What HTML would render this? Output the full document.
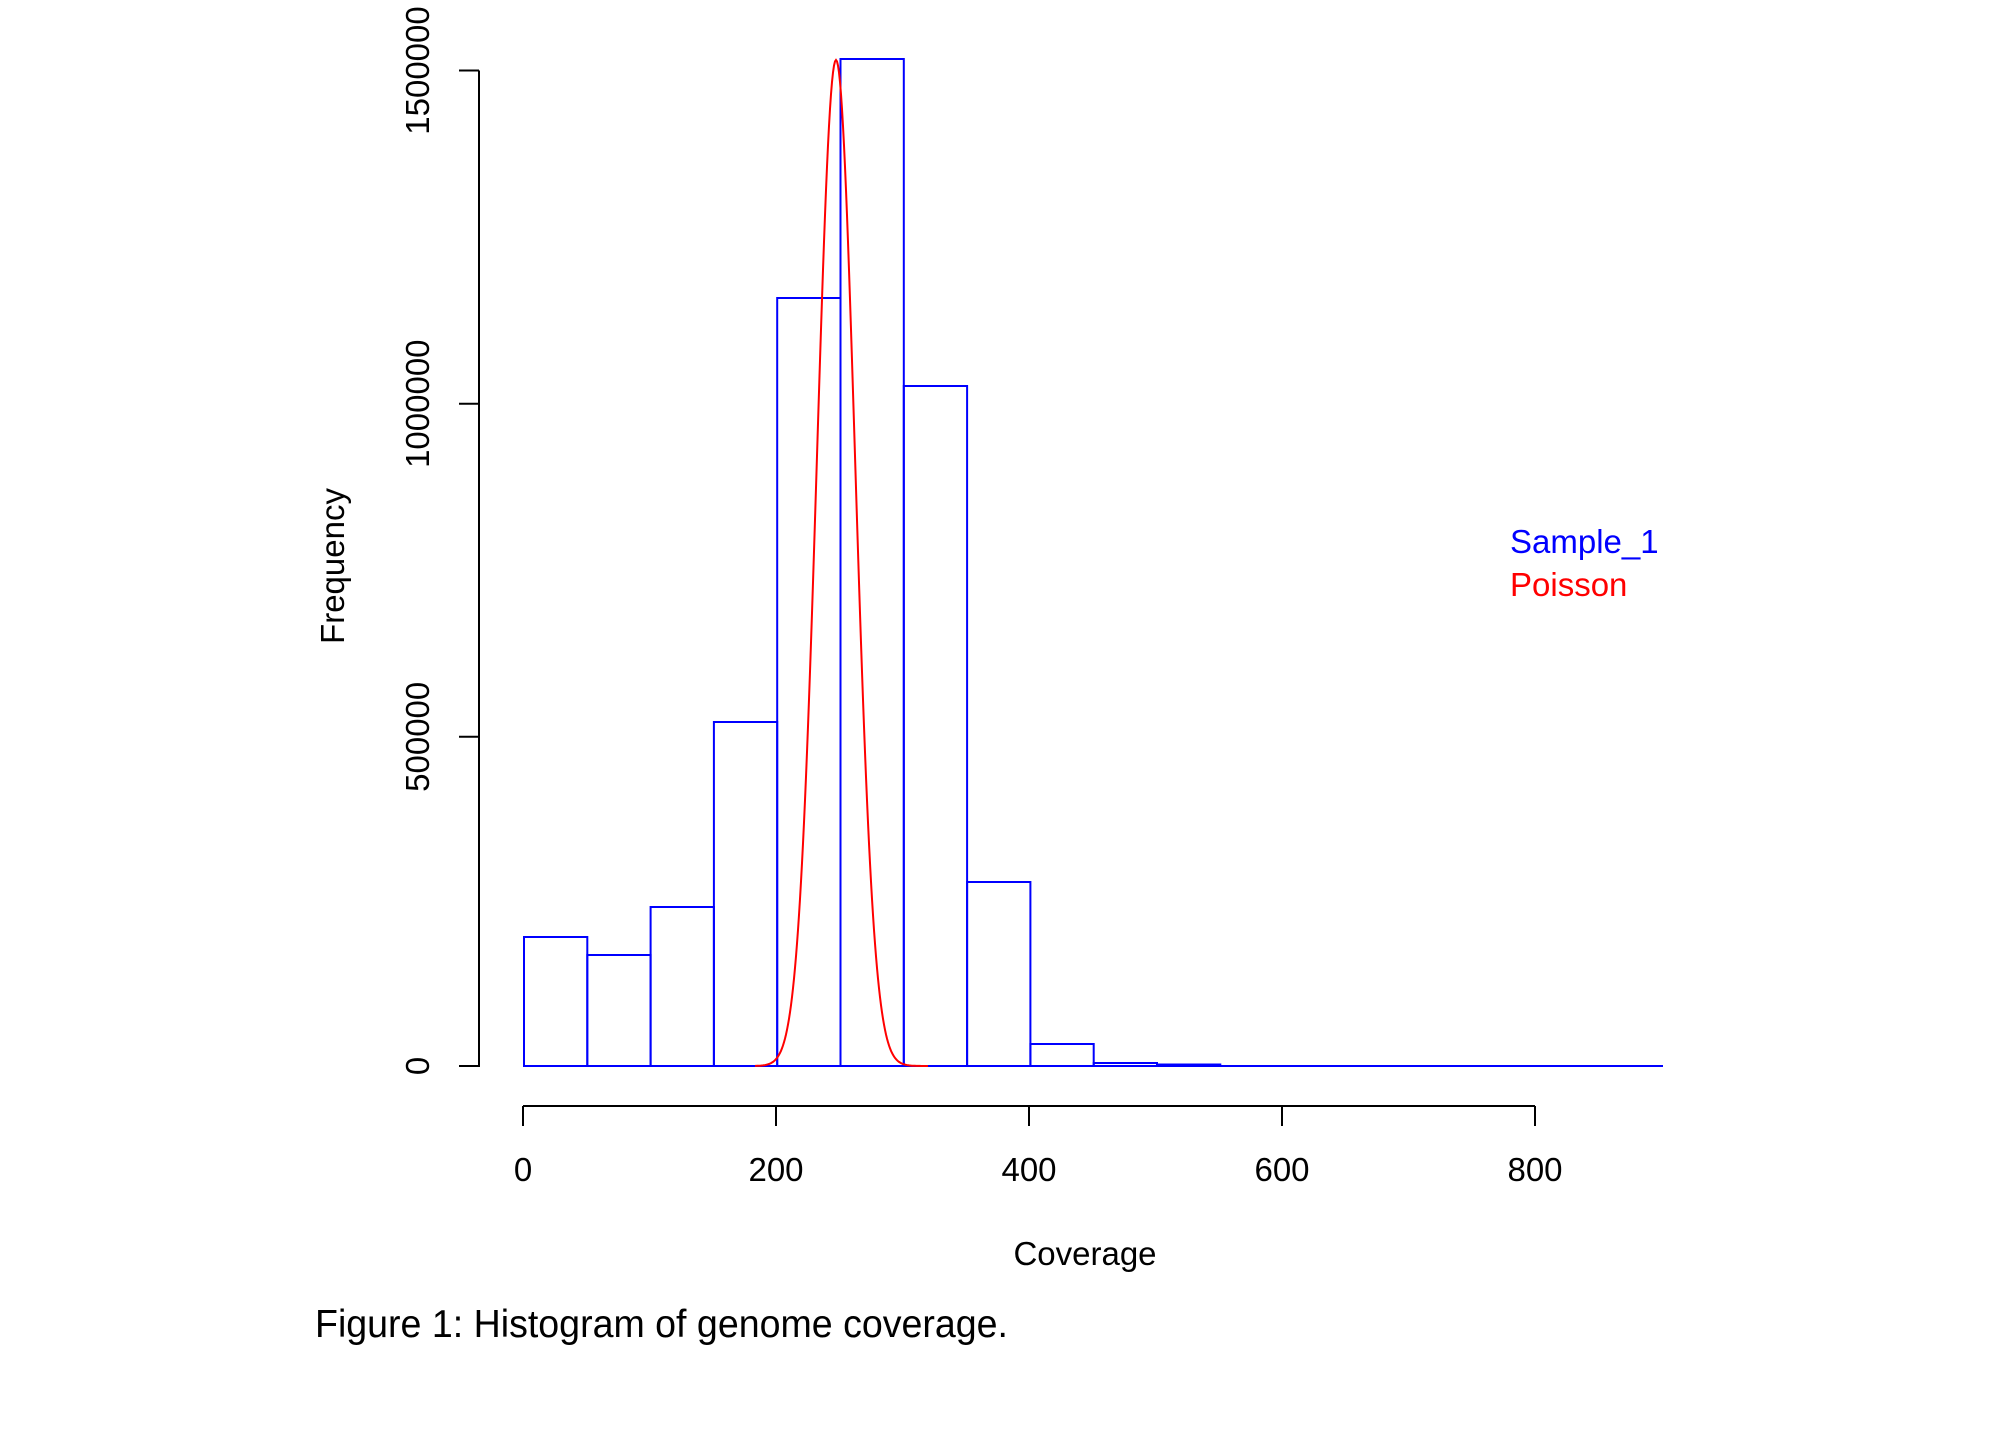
<!DOCTYPE html>
<html><head><style>
body{margin:0;background:#fff;width:2000px;height:1429px;overflow:hidden}
svg{font-family:"Liberation Sans",Arial,sans-serif}
</style></head><body>
<svg width="2000" height="1429" xmlns="http://www.w3.org/2000/svg">
<g fill="none" stroke="#0000ff" stroke-width="2">
<rect x="524" y="937" width="63.3" height="129"/>
<rect x="587.3" y="955" width="63.3" height="111"/>
<rect x="650.6" y="907" width="63.3" height="159"/>
<rect x="713.9" y="722" width="63.3" height="344"/>
<rect x="777.2" y="298" width="63.3" height="768"/>
<rect x="840.5" y="59" width="63.3" height="1007"/>
<rect x="903.8" y="386" width="63.3" height="680"/>
<rect x="967.1" y="882" width="63.3" height="184"/>
<rect x="1030.4" y="1044" width="63.3" height="22"/>
<rect x="1093.7" y="1063" width="63.3" height="3"/>
<rect x="1157" y="1064.5" width="63.3" height="1.5"/>
<line x1="1220" y1="1066" x2="1663" y2="1066"/>
</g>
<path id="pois" fill="none" stroke="#ff0000" stroke-width="2"/>
<g stroke="#000" stroke-width="2" fill="none">
<line x1="479" y1="70.5" x2="479" y2="1067"/>
<line x1="459" y1="70.5" x2="479" y2="70.5"/>
<line x1="459" y1="403.7" x2="479" y2="403.7"/>
<line x1="459" y1="736.8" x2="479" y2="736.8"/>
<line x1="459" y1="1066" x2="479" y2="1066"/>
<line x1="523" y1="1106" x2="1535" y2="1106"/>
<line x1="523" y1="1106" x2="523" y2="1126"/>
<line x1="776" y1="1106" x2="776" y2="1126"/>
<line x1="1029" y1="1106" x2="1029" y2="1126"/>
<line x1="1282" y1="1106" x2="1282" y2="1126"/>
<line x1="1535" y1="1106" x2="1535" y2="1126"/>
</g>
<g font-size="33" text-anchor="middle" fill="#000">
<text x="523" y="1181">0</text>
<text x="776" y="1181">200</text>
<text x="1029" y="1181">400</text>
<text x="1282" y="1181">600</text>
<text x="1535" y="1181">800</text>
<text transform="translate(429,70.5) rotate(-90)">1500000</text>
<text transform="translate(429,403.7) rotate(-90)">1000000</text>
<text transform="translate(429,736.8) rotate(-90)">500000</text>
<text transform="translate(429,1066) rotate(-90)">0</text>
<text transform="translate(344,566) rotate(-90)">Frequency</text>
<text x="1085" y="1265">Coverage</text>
</g>
<text x="1510" y="553" font-size="33" fill="#0000ff">Sample_1</text>
<text x="1510" y="596" font-size="33" fill="#ff0000">Poisson</text>
<text x="315" y="1337" font-size="39" fill="#000" textLength="693" lengthAdjust="spacingAndGlyphs">Figure 1: Histogram of genome coverage.</text>
</svg>
<script>
var d="";for(var x=755;x<=928;x+=1){var t=(x-836)/19;var y=1066-1006*Math.exp(-t*t/2);d+=(d?"L":"M")+x+" "+y.toFixed(1);}
document.getElementById("pois").setAttribute("d",d);
</script>
</body></html>
